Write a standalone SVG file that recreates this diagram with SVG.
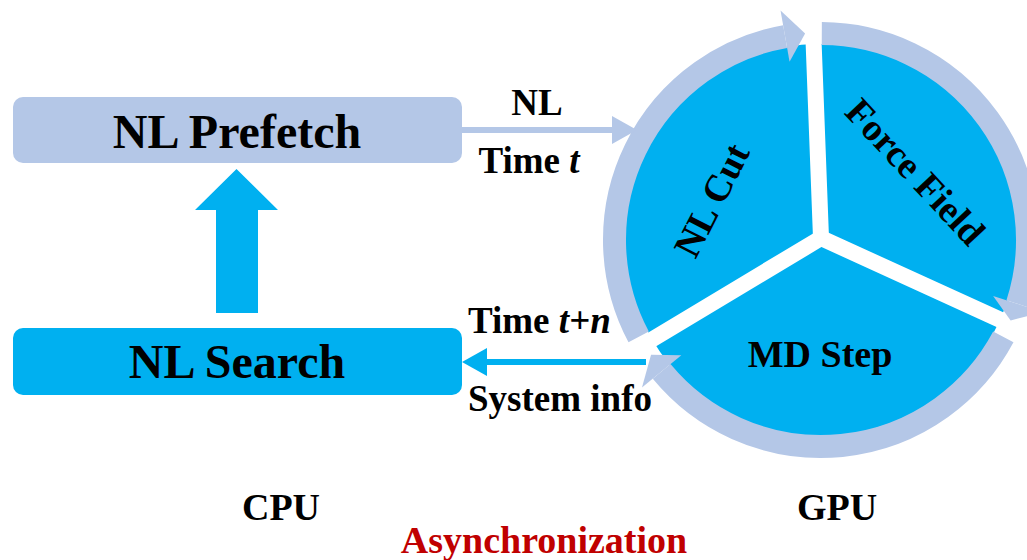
<svg xmlns="http://www.w3.org/2000/svg" width="1027" height="560" viewBox="0 0 1027 560">
  <style>
    text { font-family: "Liberation Serif", "Times New Roman", serif; font-weight: bold; fill: #000; }
    .big { font-size: 48px; text-anchor: middle; }
    .lbl { font-size: 37px; }
    .seg { font-size: 38px; text-anchor: middle; }
    .light { fill: #B4C7E7; }
    .bright { fill: #00B0F0; }
    .ring { fill: none; stroke: #B4C7E7; stroke-width: 23; }
    .div { stroke: #FFFFFF; stroke-width: 16; stroke-linecap: round; }
  </style>
  <rect x="0" y="0" width="1027" height="560" fill="#FFFFFF"/>

  <g id="nl-prefetch">
    <rect class="light" x="13" y="97" width="449" height="66" rx="10"/>
    <text class="big" x="237" y="148">NL Prefetch</text>
  </g>

  <g id="nl-search">
    <rect class="bright" x="13" y="328" width="449" height="67" rx="10"/>
    <text class="big" x="237" y="378">NL Search</text>
  </g>

  <g id="nl-cut">
    <path class="bright" d="M821 240 L653.0 340.95 A196 196 0 0 1 814.16 44.12 Z"/>
  </g>
  <g id="force-field">
    <path class="bright" d="M821 240 L814.16 44.12 A196 196 0 0 1 999.35 321.28 Z"/>
  </g>
  <g id="md-step">
    <path class="bright" d="M821 240 L999.35 321.28 A196 196 0 0 1 653.0 340.95 Z"/>
  </g>

  <g id="dividers">
    <line class="div" x1="821" y1="238" x2="813.5" y2="40"/>
    <line class="div" x1="821" y1="238" x2="1003.7" y2="321.4"/>
    <line class="div" x1="821" y1="238" x2="648.7" y2="341.5"/>
  </g>

  <g id="connectors">
    <!-- cycle ring arrows -->
    <path class="ring" d="M638.67 336.95 A206.5 206.5 0 0 1 785.14 36.64"/>
    <polygon class="light" points="789.57,61.75 780.54,10.54 805.12,33.61"/>
    <path class="ring" d="M821.8 33.5 A206.5 206.5 0 0 1 1017.39 303.81"/>
    <polygon class="light" points="993.14,295.93 1042.6,312.0 1010.62,320.49"/>
    <path class="ring" d="M1003.33 336.95 A206.5 206.5 0 0 1 661.66 371.35"/>
    <polygon class="light" points="681.34,355.13 641.98,387.57 651.05,354.63"/>

    <!-- NL Prefetch to GPU -->
    <line x1="462" y1="130" x2="614" y2="130" stroke="#B4C7E7" stroke-width="6"/>
    <polygon class="light" points="612,116 637,130 612,144"/>

    <!-- GPU to NL Search -->
    <line x1="646" y1="362" x2="485" y2="362" stroke="#00B0F0" stroke-width="6"/>
    <polygon class="bright" points="487,348 462,362 487,376"/>

    <!-- NL Search to NL Prefetch -->
    <polygon class="bright" points="216,313 216,210 195,210 236.5,169 278,210 258,210 258,313"/>
  </g>

  <g id="labels">
    <text class="seg" transform="rotate(-63 723 206)" x="723" y="206">NL Cut</text>
    <text class="seg" transform="rotate(47 906 180.5)" x="906" y="180.5">Force Field</text>
    <text class="seg" x="820" y="367">MD Step</text>

    <text class="lbl" x="537" y="115" text-anchor="middle">NL</text>
    <text class="lbl" x="529" y="173" text-anchor="middle">Time <tspan font-style="italic">t</tspan></text>
    <text class="lbl" x="468" y="333">Time <tspan font-style="italic">t+n</tspan></text>
    <text class="lbl" x="468" y="411">System info</text>

    <text class="seg" x="281" y="520">CPU</text>
    <text class="seg" x="837" y="520">GPU</text>
    <text class="seg" x="544" y="553" fill="#C00000" style="fill:#C00000">Asynchronization</text>
  </g>
</svg>
